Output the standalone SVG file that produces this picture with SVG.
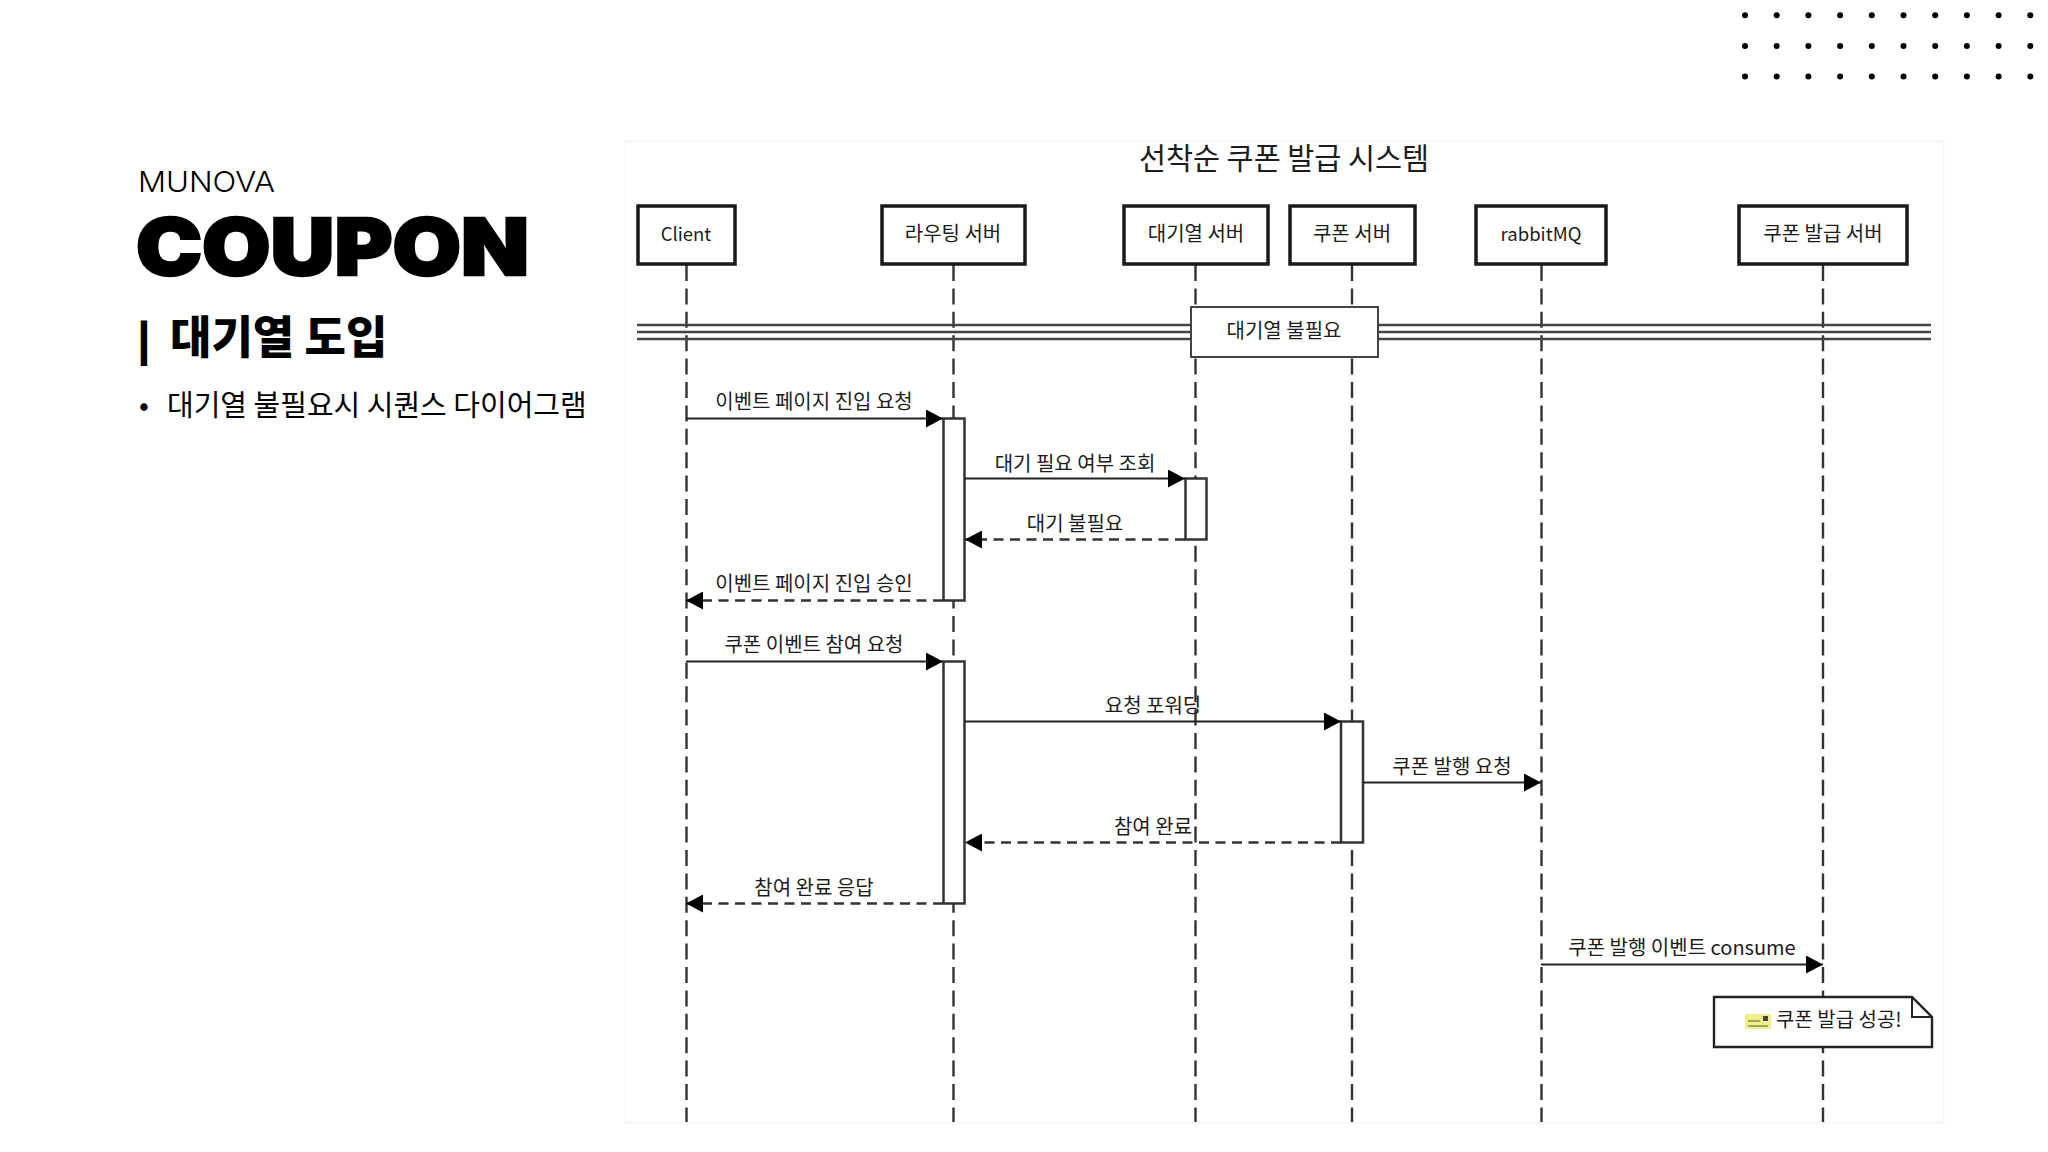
<svg xmlns="http://www.w3.org/2000/svg" width="2048" height="1152" viewBox="0 0 2048 1152">
<style>
text{font-family:"Noto Sans CJK KR","Noto Sans",sans-serif;fill:#1c1c1c}
.k{font-size:20px;text-anchor:middle}
.b{fill:#fff;stroke:#1a1a1a;stroke-width:3.5}
.a{fill:#fff;stroke:#333;stroke-width:2.5}
.l{stroke:#333;stroke-width:2.4;stroke-dasharray:16 7.4;fill:none}
.m{stroke:#222;stroke-width:2.2;fill:none;marker-end:url(#ah)}
.r{stroke:#333;stroke-width:2.6;fill:none;stroke-dasharray:10 6.5;marker-end:url(#ah)}
.d{stroke:#444;stroke-width:2.4;fill:none}
.s{fill:#000}
</style>
<defs>
<marker id="ah" markerUnits="userSpaceOnUse" markerWidth="18" markerHeight="18" refX="17" refY="9" orient="auto"><path d="M0 0L17 9L0 18Z" fill="#000"/></marker>
<g id="dotrow"><circle cx="1745" r="3" class="s"/><circle cx="1776.7" r="3" class="s"/><circle cx="1808.4" r="3" class="s"/><circle cx="1840.1" r="3" class="s"/><circle cx="1871.8" r="3" class="s"/><circle cx="1903.5" r="3" class="s"/><circle cx="1935.2" r="3" class="s"/><circle cx="1966.9" r="3" class="s"/><circle cx="1998.6" r="3" class="s"/><circle cx="2030.3" r="3" class="s"/></g>
</defs>
<rect width="2048" height="1152" fill="#fff"/>
<g id="dots"><use href="#dotrow" y="15.3"/><use href="#dotrow" y="46"/><use href="#dotrow" y="76.5"/></g>
<g id="heading">
<text x="138" y="192" font-size="29" textLength="137" lengthAdjust="spacingAndGlyphs" style="font-family:Inter,sans-serif;font-weight:300;fill:#000">MUNOVA</text>
<text x="136" y="275" font-size="78" textLength="393" lengthAdjust="spacingAndGlyphs" stroke="#000" stroke-width="2.5" style="font-family:Inter,sans-serif;font-weight:900;fill:#000">COUPON</text>
<text y="354" font-size="45" style="font-weight:900;fill:#000"><tspan x="138" font-size="38" stroke="#000" stroke-width="2">|</tspan><tspan x="170">대기열 도입</tspan></text>
<text y="416" font-size="29" style="fill:#000"><tspan x="139">•</tspan><tspan x="167">대기열 불필요시 시퀀스 다이어그램</tspan></text>
</g>
<rect id="card" x="625.5" y="141" width="1318" height="982" fill="#fff" stroke="#f6f6f6" stroke-width="1.5"/>
<text id="title" x="1284" y="169" font-size="29.4" text-anchor="middle">선착순 쿠폰 발급 시스템</text>
<g id="connectors">
<path class="l" d="M686.5 265V1122"/><path class="l" d="M953.5 265V1122"/><path class="l" d="M1195.5 265V1122"/><path class="l" d="M1352 265V1122"/><path class="l" d="M1541.5 265V1122"/><path class="l" d="M1823 265V1122"/>
<path class="d" d="M637 325H1931M637 332H1931M637 339H1931"/>
</g>
<g id="client"><rect class="b" x="638" y="206" width="97" height="58"/><text class="k" x="686" y="241" style="font-size:18.5px">Client</text></g>
<g id="routing"><rect class="b" x="882" y="206" width="143" height="58"/><text class="k" x="953" y="241">라우팅 서버</text></g>
<g id="queue"><rect class="b" x="1124" y="206" width="144" height="58"/><text class="k" x="1196" y="241">대기열 서버</text></g>
<g id="coupon"><rect class="b" x="1290" y="206" width="125" height="58"/><text class="k" x="1352" y="241">쿠폰 서버</text></g>
<g id="rabbit"><rect class="b" x="1476" y="206" width="130" height="58"/><text class="k" x="1541" y="241" style="font-size:18.5px">rabbitMQ</text></g>
<g id="issuer"><rect class="b" x="1739" y="206" width="168" height="58"/><text class="k" x="1823" y="241">쿠폰 발급 서버</text></g>
<g id="divider-label"><rect x="1191" y="307" width="187" height="50" fill="#fff" stroke="#444" stroke-width="2"/><text class="k" x="1284" y="338">대기열 불필요</text></g>
<g id="activations">
<rect class="a" x="943.5" y="418.5" width="21" height="182"/>
<rect class="a" x="1185.5" y="478.5" width="21" height="61"/>
<rect class="a" x="943.5" y="661.5" width="21" height="242"/>
<rect class="a" x="1341" y="721.5" width="22" height="121"/>
</g>
<g id="messages">
<path class="m" d="M686 418.5H943"/>
<path class="m" d="M964 478.5H1185"/>
<path class="r" d="M1185 539.5H965"/>
<path class="r" d="M943 600.5H686"/>
<path class="m" d="M686 661.5H943"/>
<path class="m" d="M964 721.5H1341"/>
<path class="m" d="M1363 782.5H1541"/>
<path class="r" d="M1341 842.5H965"/>
<path class="r" d="M943 903.5H686"/>
<path class="m" d="M1541 964.5H1823"/>
</g>
<g id="labels">
<text class="k" x="814" y="409">이벤트 페이지 진입 요청</text>
<text class="k" x="1075" y="471">대기 필요 여부 조회</text>
<text class="k" x="1075" y="531">대기 불필요</text>
<text class="k" x="814" y="591">이벤트 페이지 진입 승인</text>
<text class="k" x="814" y="652">쿠폰 이벤트 참여 요청</text>
<text class="k" x="1153" y="713">요청 포워딩</text>
<text class="k" x="1452" y="774">쿠폰 발행 요청</text>
<text class="k" x="1153" y="834">참여 완료</text>
<text class="k" x="814" y="895">참여 완료 응답</text>
<text class="k" x="1682" y="955">쿠폰 발행 이벤트 consume</text>
</g>
<g id="note">
<path d="M1714 997H1912L1932 1017V1047H1714Z" fill="#fff" stroke="#222" stroke-width="2.4"/>
<path d="M1912 997V1017H1932" fill="none" stroke="#222" stroke-width="2"/>
<rect x="1745" y="1014" width="26" height="15" fill="#f3ee8c"/>
<path d="M1748 1021H1760M1748 1026H1768" stroke="#8a8a50" stroke-width="1.5"/>
<rect x="1763" y="1016" width="5" height="5" fill="#444"/>
<text x="1776" y="1027" font-size="20">쿠폰 발급 성공!</text>
</g>
</svg>
